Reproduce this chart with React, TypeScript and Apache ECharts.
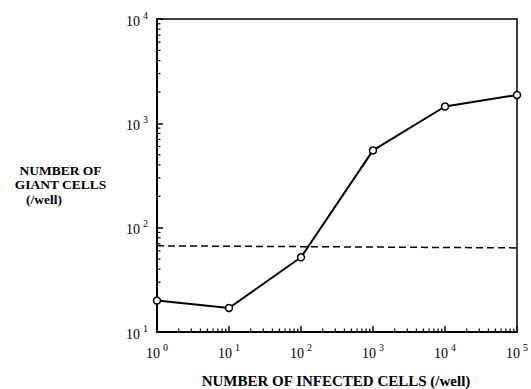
import React, { useEffect, useRef } from "react";
import * as echarts from "echarts";

const infectedCells = [1, 10, 100, 1000, 10000, 100000];
const giantCells = [20, 17, 52, 550, 1450, 1870];
const thresholdX = [1, 100000];
const thresholdY = [67, 64];
const yMinorTicks = [20, 30, 40, 50, 60, 70, 80, 90, 200, 300, 400, 500, 600, 700, 800, 900, 2000, 3000, 4000, 5000, 6000, 7000, 8000, 9000];
const xMinorTicks = [2, 3, 4, 5, 6, 7, 8, 9, 20, 30, 40, 50, 60, 70, 80, 90, 200, 300, 400, 500, 600, 700, 800, 900, 2000, 3000, 4000, 5000, 6000, 7000, 8000, 9000, 20000, 30000, 40000, 50000, 60000, 70000, 80000, 90000];
const xTitle = "NUMBER OF INFECTED CELLS (/well)";
const yTitleLines = ["NUMBER OF", "GIANT CELLS", "(/well)"];

const FONT = "'Liberation Serif', 'DejaVu Serif', serif";

const powLabel = (v: number) => `{b|10}{s|${Math.round(Math.log10(v))}}`;
const rich = {
  b: { fontSize: 14, fontFamily: FONT, color: "#000", lineHeight: 18, verticalAlign: "bottom" },
  s: { fontSize: 10, fontFamily: FONT, color: "#000", lineHeight: 10, verticalAlign: "top", padding: [0, 0, 0, 3] },
};

export default function App() {
  const ref = useRef<HTMLDivElement>(null);
  useEffect(() => {
    const chart = echarts.init(ref.current!, undefined, { renderer: "svg" });
    chart.setOption({
      animation: false,
      backgroundColor: "#fff",
      grid: { left: 157, right: 13, top: 19, bottom: 57, show: true, borderColor: "#000", borderWidth: 1.5, backgroundColor: "transparent" },
      xAxis: {
        type: "log",
        logBase: 10,
        min: 1,
        max: 100000,
        splitNumber: 5,
        axisLine: { show: true, lineStyle: { color: "#000", width: 2 } },
        axisTick: { show: true, inside: true, length: 6, lineStyle: { color: "#000", width: 1.5 } },
        splitLine: { show: false },
        axisLabel: { margin: 10, formatter: powLabel, rich },
      },
      yAxis: {
        type: "log",
        logBase: 10,
        min: 10,
        max: 10000,
        splitNumber: 3,
        axisLine: { show: true, lineStyle: { color: "#000", width: 2 } },
        axisTick: { show: true, inside: true, length: 6, lineStyle: { color: "#000", width: 1.5 } },
        splitLine: { show: false },
        axisLabel: { margin: 9, formatter: powLabel, rich },
      },
      series: [
        {
          type: "line",
          data: thresholdX.map((x, i) => [x, thresholdY[i]]),
          symbol: "none",
          lineStyle: { color: "#000", width: 1.5, type: [7, 4] },
          silent: true,
        },
        {
          type: "line",
          data: infectedCells.map((x, i) => [x, giantCells[i]]),
          symbol: "circle",
          symbolSize: 7,
          itemStyle: { color: "#fff", borderColor: "#000", borderWidth: 1.5 },
          lineStyle: { color: "#000", width: 2 },
          clip: false,
          z: 3,
        },
        {
          type: "custom",
          data: yMinorTicks.map((v) => [1, v]),
          clip: false,
          silent: true,
          renderItem: (_p: any, api: any) => {
            const pt = api.coord([1, api.value(1)]);
            return { type: "line", shape: { x1: pt[0], y1: pt[1], x2: pt[0] + 3.5, y2: pt[1] }, style: { stroke: "#000", lineWidth: 1.2 } };
          },
        },
        {
          type: "custom",
          data: xMinorTicks.map((v) => [v, 10]),
          clip: false,
          silent: true,
          renderItem: (_p: any, api: any) => {
            const pt = api.coord([api.value(0), 10]);
            return { type: "line", shape: { x1: pt[0], y1: pt[1], x2: pt[0], y2: pt[1] - 3.5 }, style: { stroke: "#000", lineWidth: 1.2 } };
          },
        },
      ],
      graphic: [
        { type: "text", x: 60.5, y: 170, style: { text: yTitleLines[0], fontSize: 13.5, fontWeight: "bold", fontFamily: FONT, fill: "#000", align: "center", verticalAlign: "middle" } },
        { type: "text", x: 60.5, y: 184, style: { text: yTitleLines[1], fontSize: 13.5, fontWeight: "bold", fontFamily: FONT, fill: "#000", align: "center", verticalAlign: "middle" } },
        { type: "text", x: 26, y: 199, style: { text: yTitleLines[2], fontSize: 13.5, fontWeight: "bold", fontFamily: FONT, fill: "#000", align: "left", verticalAlign: "middle" } },
        { type: "text", x: 336, y: 381, style: { text: xTitle, fontSize: 15, fontWeight: "bold", fontFamily: FONT, fill: "#000", align: "center", verticalAlign: "middle" } },
      ],
    });
    return () => chart.dispose();
  }, []);
  return <div ref={ref} style={{ position: "fixed", left: 0, top: 0, width: 531, height: 389 }} />;
}
